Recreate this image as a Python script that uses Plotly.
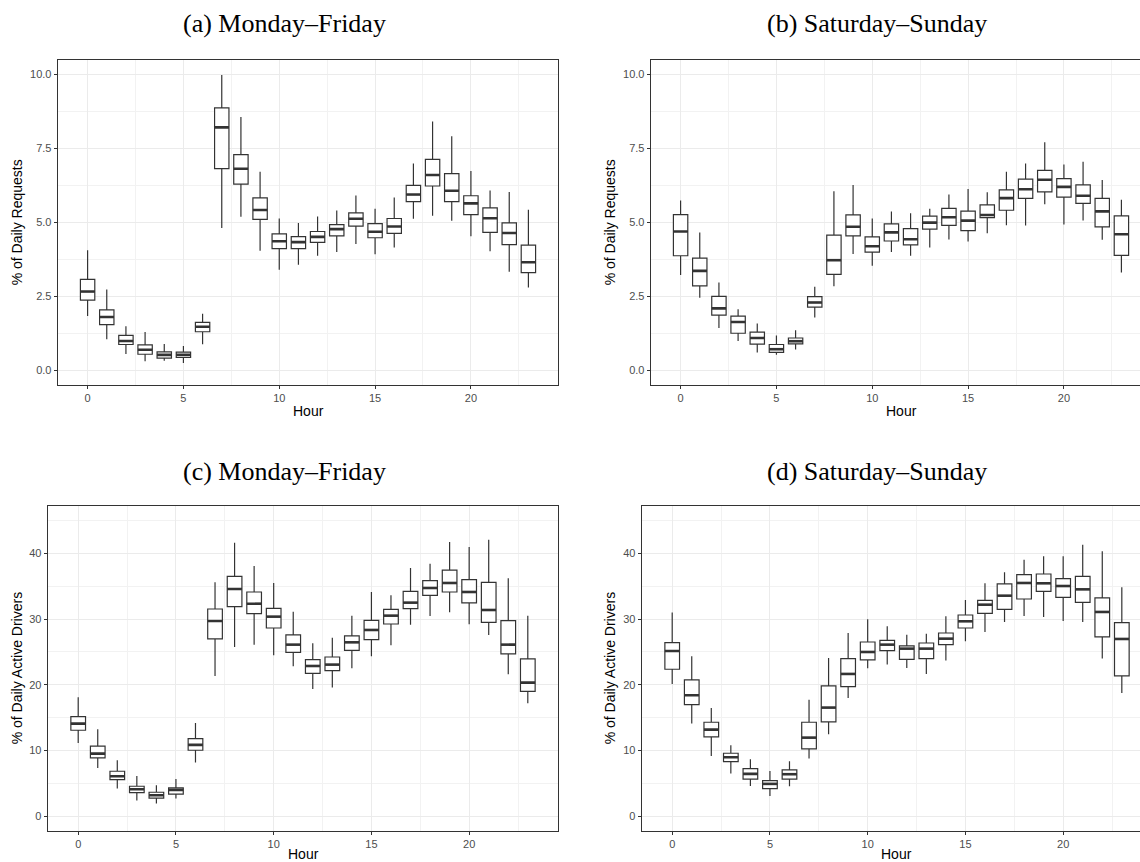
import plotly.graph_objects as go

hours = list(range(24))

# (a) Requests, Monday-Friday
a_low = [1.83, 1.05, 0.55, 0.30, 0.32, 0.24, 0.88, 4.81, 5.19, 4.04, 3.40, 3.57, 3.87, 4.00, 4.27, 3.92, 4.15, 5.12, 5.22, 5.05, 4.53, 4.02, 3.33, 2.80]
a_q1 = [2.37, 1.54, 0.87, 0.54, 0.41, 0.43, 1.30, 6.82, 6.29, 5.10, 4.11, 4.11, 4.32, 4.54, 4.87, 4.48, 4.63, 5.70, 6.23, 5.70, 5.26, 4.66, 4.25, 3.30]
a_med = [2.66, 1.80, 0.99, 0.69, 0.52, 0.52, 1.47, 8.21, 6.81, 5.42, 4.36, 4.33, 4.51, 4.77, 5.12, 4.68, 4.86, 5.94, 6.60, 6.07, 5.64, 5.14, 4.64, 3.65]
a_q3 = [3.07, 2.04, 1.18, 0.86, 0.62, 0.61, 1.62, 8.87, 7.29, 5.83, 4.61, 4.52, 4.69, 4.92, 5.32, 4.96, 5.13, 6.25, 7.13, 6.65, 5.90, 5.49, 4.98, 4.23]
a_high = [4.06, 2.73, 1.49, 1.29, 0.89, 0.82, 1.91, 9.98, 8.56, 6.71, 5.13, 4.98, 5.20, 5.40, 5.91, 5.46, 5.84, 6.99, 8.41, 7.91, 6.74, 6.08, 6.03, 5.43]

# (b) Requests, Saturday-Sunday
b_low = [3.22, 2.45, 1.43, 0.99, 0.60, 0.52, 0.70, 1.78, 2.84, 3.93, 3.53, 4.00, 3.87, 4.15, 4.42, 4.35, 4.63, 4.90, 4.89, 5.61, 4.93, 5.06, 4.41, 3.30]
b_q1 = [3.87, 2.85, 1.86, 1.25, 0.88, 0.60, 0.89, 2.13, 3.24, 4.54, 3.99, 4.37, 4.24, 4.77, 4.90, 4.72, 5.16, 5.41, 5.81, 6.03, 5.85, 5.64, 4.85, 3.88]
b_med = [4.69, 3.36, 2.09, 1.63, 1.09, 0.71, 0.98, 2.29, 3.72, 4.85, 4.19, 4.66, 4.43, 4.99, 5.17, 5.06, 5.25, 5.82, 6.12, 6.44, 6.20, 5.90, 5.37, 4.60]
b_q3 = [5.26, 3.79, 2.50, 1.83, 1.29, 0.87, 1.09, 2.49, 4.57, 5.25, 4.51, 4.95, 4.79, 5.21, 5.47, 5.38, 5.59, 6.10, 6.46, 6.76, 6.48, 6.27, 5.81, 5.22]
b_high = [5.74, 4.66, 2.97, 2.06, 1.58, 1.17, 1.35, 2.82, 6.05, 6.26, 5.13, 5.37, 5.31, 5.46, 5.94, 6.13, 6.02, 6.71, 6.99, 7.71, 6.96, 7.05, 6.43, 5.76]

# (c) Active drivers, Monday-Friday
c_low = [11.15, 7.35, 4.21, 2.38, 1.93, 2.69, 8.16, 21.34, 25.75, 26.11, 24.49, 22.81, 19.37, 19.57, 22.51, 24.33, 26.01, 29.15, 30.47, 31.03, 29.20, 27.58, 21.60, 17.19]
c_q1 = [13.08, 8.87, 5.58, 3.60, 2.74, 3.35, 10.04, 26.97, 31.89, 30.82, 28.64, 24.94, 21.75, 22.15, 25.25, 26.87, 29.25, 31.58, 33.61, 34.12, 32.45, 29.51, 24.69, 19.01]
c_med = [14.09, 9.53, 6.08, 4.11, 3.19, 4.01, 10.85, 29.71, 34.58, 32.34, 30.37, 26.11, 22.86, 23.07, 26.46, 28.34, 30.52, 32.50, 34.73, 35.49, 34.12, 31.38, 26.11, 20.33]
c_q3 = [15.16, 10.65, 6.84, 4.56, 3.65, 4.31, 11.81, 31.53, 36.50, 34.12, 31.63, 27.58, 23.83, 24.23, 27.43, 29.81, 31.48, 34.22, 35.84, 37.46, 35.99, 35.59, 29.76, 23.93]
c_high = [18.10, 13.23, 8.52, 6.13, 4.71, 5.68, 14.20, 35.60, 41.60, 38.07, 35.49, 31.13, 26.31, 27.17, 30.52, 34.12, 33.61, 37.77, 38.43, 41.72, 40.96, 42.08, 36.20, 30.52]

# (d) Active drivers, Saturday-Sunday
d_low = [20.13, 14.09, 9.18, 6.49, 4.61, 3.09, 4.56, 8.77, 12.47, 18.00, 22.51, 23.07, 22.56, 21.65, 23.68, 26.62, 28.04, 29.56, 30.47, 30.32, 29.71, 29.56, 23.98, 18.76]
d_q1 = [22.36, 16.98, 12.07, 8.31, 5.63, 4.21, 5.63, 10.24, 14.35, 19.72, 23.78, 25.20, 23.88, 23.98, 26.11, 28.64, 30.87, 31.48, 33.05, 34.22, 33.31, 32.55, 27.28, 21.34]
d_med = [25.15, 18.40, 13.18, 8.97, 6.44, 4.92, 6.39, 11.96, 16.53, 21.65, 24.99, 26.11, 25.50, 25.50, 27.02, 29.66, 32.19, 33.56, 35.49, 35.44, 35.03, 34.52, 31.08, 26.97]
d_q3 = [26.41, 20.74, 14.30, 9.58, 7.25, 5.42, 7.05, 14.30, 19.82, 23.98, 26.51, 26.77, 25.91, 26.36, 27.88, 30.62, 32.85, 35.34, 36.76, 36.86, 36.15, 36.50, 33.21, 29.46]
d_high = [30.98, 24.33, 16.48, 10.80, 8.67, 6.89, 8.37, 17.74, 24.08, 27.88, 29.96, 28.90, 27.63, 27.78, 30.42, 32.90, 35.44, 37.11, 39.04, 39.54, 39.54, 41.32, 40.30, 34.83]

titles = ["(a) Monday\u2013Friday", "(b) Saturday\u2013Sunday", "(c) Monday\u2013Friday", "(d) Saturday\u2013Sunday"]
y_titles = ["% of Daily Requests", "% of Daily Requests", "% of Daily Active Drivers", "% of Daily Active Drivers"]
x_title = "Hour"

W, H = 1140, 862
BOX_W = 0.75
DARK = "#333333"
GRID = "#EBEBEB"

# panel geometry in pixels: left, right, top, bottom
panels = [
    dict(l=57.7, r=558.3, t=59.7, b=385.0, xr=[-1.56, 24.56], full_r=558.3),
    dict(l=650.7, r=1140.0, t=59.7, b=385.0, xr=[-1.56, 23.97], full_r=1151.3),
    dict(l=47.7, r=558.3, t=505.7, b=831.0, xr=[-1.56, 24.56], full_r=558.3),
    dict(l=641.7, r=1140.0, t=505.7, b=831.0, xr=[-1.56, 23.93], full_r=1152.0),
]
data = [
    (a_low, a_q1, a_med, a_q3, a_high),
    (b_low, b_q1, b_med, b_q3, b_high),
    (c_low, c_q1, c_med, c_q3, c_high),
    (d_low, d_q1, d_med, d_q3, d_high),
]

fig = go.Figure()
annotations = []
for i, (p, (lo, q1, md, q3, hi)) in enumerate(zip(panels, data)):
    xa = "x" if i == 0 else f"x{i+1}"
    ya = "y" if i == 0 else f"y{i+1}"
    fig.add_trace(go.Box(
        x=hours, q1=q1, median=md, q3=q3, lowerfence=lo, upperfence=hi,
        width=BOX_W, whiskerwidth=0, fillcolor="white",
        line=dict(color=DARK, width=1.2), boxpoints=False,
        xaxis=xa, yaxis=ya, showlegend=False, hoverinfo="skip",
    ))
    mx, my = [], []
    for h, m in zip(hours, md):
        mx += [h - BOX_W / 2, h + BOX_W / 2, None]
        my += [m, m, None]
    fig.add_trace(go.Scatter(
        x=mx, y=my, mode="lines", line=dict(color=DARK, width=2.6),
        xaxis=xa, yaxis=ya, showlegend=False, hoverinfo="skip",
    ))

    top_row = i < 2
    xdom = [p["l"] / W, p["r"] / W]
    ydom = [1 - p["b"] / H, 1 - p["t"] / H]
    right = i % 2 == 1
    xkey = "xaxis" if i == 0 else f"xaxis{i+1}"
    ykey = "yaxis" if i == 0 else f"yaxis{i+1}"
    fig.layout[xkey] = dict(
        domain=xdom, range=p["xr"], anchor=ya,
        tickvals=[0, 5, 10, 15, 20], ticks="outside", ticklen=3, tickwidth=1,
        tickcolor=DARK, tickfont=dict(family="Liberation Sans, Arial", size=11, color="#4D4D4D"),
        showgrid=True, gridcolor=GRID, gridwidth=1,
        minor=dict(dtick=2.5, tick0=0, showgrid=True, gridcolor="#F2F2F2", gridwidth=0.7),
        showline=True, linecolor=DARK, linewidth=1.1, mirror=True, zeroline=False,
    )
    if top_row:
        yrange = [-0.5, 10.5]
        ytv = [0, 2.5, 5, 7.5, 10]
        yfmt = ".1f"
        ymin = 1.25
    else:
        yrange = [-2.25, 47.25]
        ytv = [0, 10, 20, 30, 40]
        yfmt = "d"
        ymin = 5
    fig.layout[ykey] = dict(
        domain=ydom, range=yrange, anchor=xa,
        tickvals=ytv, tickformat=yfmt, ticks="outside", ticklen=3, tickwidth=1,
        tickcolor=DARK, tickfont=dict(family="Liberation Sans, Arial", size=11, color="#4D4D4D"),
        showgrid=True, gridcolor=GRID, gridwidth=1,
        minor=dict(dtick=ymin, tick0=0, showgrid=True, gridcolor="#F2F2F2", gridwidth=0.7),
        showline=True, linecolor=DARK, linewidth=1.1, mirror=not right, zeroline=False,
    )

    # panel caption
    cx = 284 if not right else 877
    cy = 24 if top_row else 471
    annotations.append(dict(
        text=titles[i], x=cx / W, y=1 - cy / H, xref="paper", yref="paper",
        xanchor="center", yanchor="middle", showarrow=False,
        font=dict(family="Liberation Serif, Times New Roman", size=26, color="black"),
    ))
    # x title
    hx = (p["l"] + p["full_r"]) / 2
    hy = p["b"] + (26 if top_row else 23)
    annotations.append(dict(
        text=x_title, x=hx / W, y=1 - hy / H, xref="paper", yref="paper",
        xanchor="center", yanchor="middle", showarrow=False,
        font=dict(family="Liberation Sans, Arial", size=14, color="black"),
    ))
    # y title
    yx = 17 if not right else 610
    yy = (p["t"] + p["b"]) / 2
    annotations.append(dict(
        text=y_titles[i], x=yx / W, y=1 - yy / H, xref="paper", yref="paper",
        xanchor="center", yanchor="middle", showarrow=False, textangle=-90,
        font=dict(family="Liberation Sans, Arial", size=14, color="black"),
    ))

fig.update_layout(
    width=W, height=H, autosize=False,
    margin=dict(l=0, r=0, t=0, b=0),
    paper_bgcolor="white", plot_bgcolor="white",
    annotations=annotations, showlegend=False,
)

fig.write_html("out.html")
